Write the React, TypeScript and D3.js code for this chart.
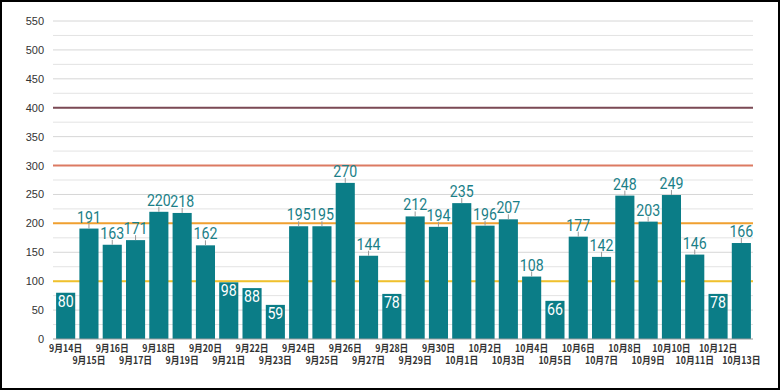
import * as d3 from "d3";

const dates = [
  "9月14日", "9月15日", "9月16日", "9月17日", "9月18日", "9月19日", "9月20日", "9月21日",
  "9月22日", "9月23日", "9月24日", "9月25日", "9月26日", "9月27日", "9月28日", "9月29日",
  "9月30日", "10月1日", "10月2日", "10月3日", "10月4日", "10月5日", "10月6日", "10月7日",
  "10月8日", "10月9日", "10月10日", "10月11日", "10月12日", "10月13日",
];
const counts = [
  80, 191, 163, 171, 220, 218, 162, 98, 88, 59, 195, 195, 270, 144, 78, 212,
  194, 235, 196, 207, 108, 66, 177, 142, 248, 203, 249, 146, 78, 166,
];
const yTicks = [0, 50, 100, 150, 200, 250, 300, 350, 400, 450, 500, 550];
const minorTicks = [25, 75, 125, 175, 225, 275, 325, 375, 425, 475, 525];
const refValues = [100, 200, 300, 400];
const refColors = ["#f0c12c", "#f0a030", "#dc7a62", "#7b4a55"];

const W = 780;
const H = 390;
const BAR = "#0b7d87";
const INSIDE_MAX = 100;

export default function App() {
  const x = d3.scaleBand<string>().domain(dates).range([54, 753]).paddingInner(0.18).paddingOuter(0.09);
  const y = d3.scaleLinear().domain([0, 550]).range([339, 21]);
  const x0 = 53;
  const x1 = 753;

  return (
    <div style={{ position: "fixed", left: 0, top: 0 }}>
      <svg width={W} height={H} viewBox={`0 0 ${W} ${H}`} style={{ display: "block", background: "#fff" }}>
        {/* grid */}
        {minorTicks.map((t) => (
          <line key={"m" + t} x1={x0} x2={x1} y1={y(t)} y2={y(t)} stroke="#e3e3e3" strokeWidth={1} />
        ))}
        {yTicks.map((t) => (
          <g key={"t" + t}>
            {t > 0 && <line x1={x0} x2={x1} y1={y(t)} y2={y(t)} stroke="#d6d6d6" strokeWidth={1} />}
            <text
              x={44}
              y={y(t) + 4}
              textAnchor="end"
              fontFamily="Liberation Sans, Arial, sans-serif"
              fontSize={11}
              fill="#333"
            >
              {t}
            </text>
          </g>
        ))}
        {refValues.map((v, i) => (
          <line key={"r" + v} x1={x0} x2={x1} y1={y(v)} y2={y(v)} stroke={refColors[i]} strokeWidth={2} />
        ))}

        {/* bars */}
        {dates.map((d, i) => {
          const v = counts[i];
          const bx = x(d) ?? 0;
          const bw = x.bandwidth();
          const cx = bx + bw / 2;
          const top = y(v);
          const inside = v < INSIDE_MAX;
          return (
            <g key={d}>
              <rect x={bx} y={top} width={bw} height={y(0) - top} fill={BAR} />
              {!inside && <line x1={cx} x2={cx} y1={top} y2={top - 5} stroke="#9a9a9a" strokeWidth={1} />}
              <text
                transform={`translate(${cx},${inside ? top + 14 : top - 6}) scale(0.86,1)`}
                textAnchor="middle"
                fontFamily="Roboto, sans-serif"
                fontSize={16.5}
                fill={inside ? "#ffffff" : "#1b7f88"}
              >
                {v}
              </text>
            </g>
          );
        })}

        <line x1={x0} x2={x1} y1={y(0)} y2={y(0)} stroke="#9a9a9a" strokeWidth={1} />

        {/* x labels */}
        {dates.map((d, i) => (
          <text
            key={"x" + d}
            transform={`translate(${(x(d) ?? 0) + x.bandwidth() / 2},${i % 2 === 0 ? 352 : 364}) scale(0.88,1)`}
            textAnchor="middle"
            fontFamily="Noto Sans CJK JP, sans-serif"
            fontWeight={700}
            fontSize={10}
            fill="#333"
          >
            {d}
          </text>
        ))}

        <rect x={1} y={1} width={W - 2} height={H - 2} fill="none" stroke="#000" strokeWidth={2} />
      </svg>
    </div>
  );
}
